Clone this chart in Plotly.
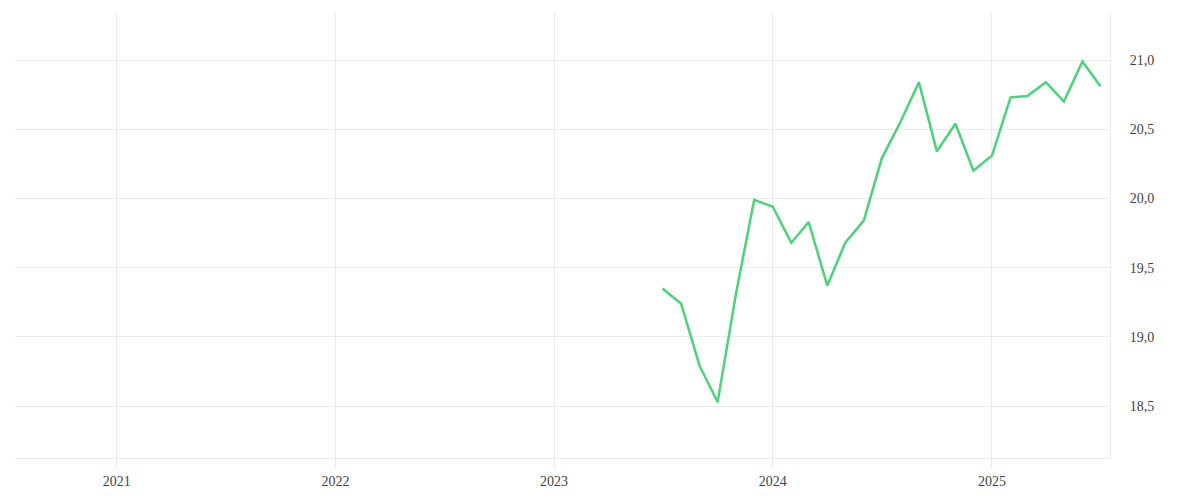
import plotly.graph_objects as go

# monthly values, Jul 2023 - Jul 2025
months = [
    "2023-07-01", "2023-08-01", "2023-09-01", "2023-10-01", "2023-11-01", "2023-12-01",
    "2024-01-01", "2024-02-01", "2024-03-01", "2024-04-01", "2024-05-01", "2024-06-01",
    "2024-07-01", "2024-08-01", "2024-09-01", "2024-10-01", "2024-11-01", "2024-12-01",
    "2025-01-01", "2025-02-01", "2025-03-01", "2025-04-01", "2025-05-01", "2025-06-01",
    "2025-07-01",
]
values = [
    19.35, 19.24, 18.79, 18.53, 19.32, 19.99,
    19.94, 19.68, 19.83, 19.37, 19.68, 19.84,
    20.29, 20.55, 20.84, 20.34, 20.54, 20.20,
    20.31, 20.73, 20.74, 20.84, 20.70, 20.99,
    20.81,
]
year_ticks = ["2021-01-01", "2022-01-01", "2023-01-01", "2024-01-01", "2025-01-01"]
year_labels = ["2021", "2022", "2023", "2024", "2025"]
y_ticks = [18.5, 19.0, 19.5, 20.0, 20.5, 21.0]

grid = "#ececec"

fig = go.Figure()
fig.add_trace(go.Scatter(
    x=months, y=values, mode="lines",
    line=dict(color="#4cd37a", width=2.5),
    hoverinfo="x+y", showlegend=False,
))

# page body adds ~8px, margins compensate
fig.update_layout(
    width=1200, height=500,
    margin=dict(l=7, r=98, t=4, b=50),
    plot_bgcolor="white", paper_bgcolor="white",
    separators=",.",
    font=dict(family="Liberation Serif, DejaVu Serif, serif", size=14, color="#444"),
    xaxis=dict(
        type="date",
        range=["2020-07-15", "2025-07-17"],
        tickvals=year_ticks, ticktext=year_labels,
        showgrid=True, gridcolor=grid, gridwidth=1,
        ticks="outside", ticklen=10, tickcolor=grid,
        showline=True, linecolor=grid, linewidth=1,
        zeroline=False,
    ),
    yaxis=dict(
        side="right",
        range=[18.125, 21.347],
        tickvals=y_ticks, tickformat=".1f",
        showgrid=True, gridcolor=grid, gridwidth=1,
        showline=True, linecolor=grid, linewidth=1,
        ticks="", ticklabelstandoff=16,
        zeroline=False,
    ),
)

fig.write_html("out.html")
